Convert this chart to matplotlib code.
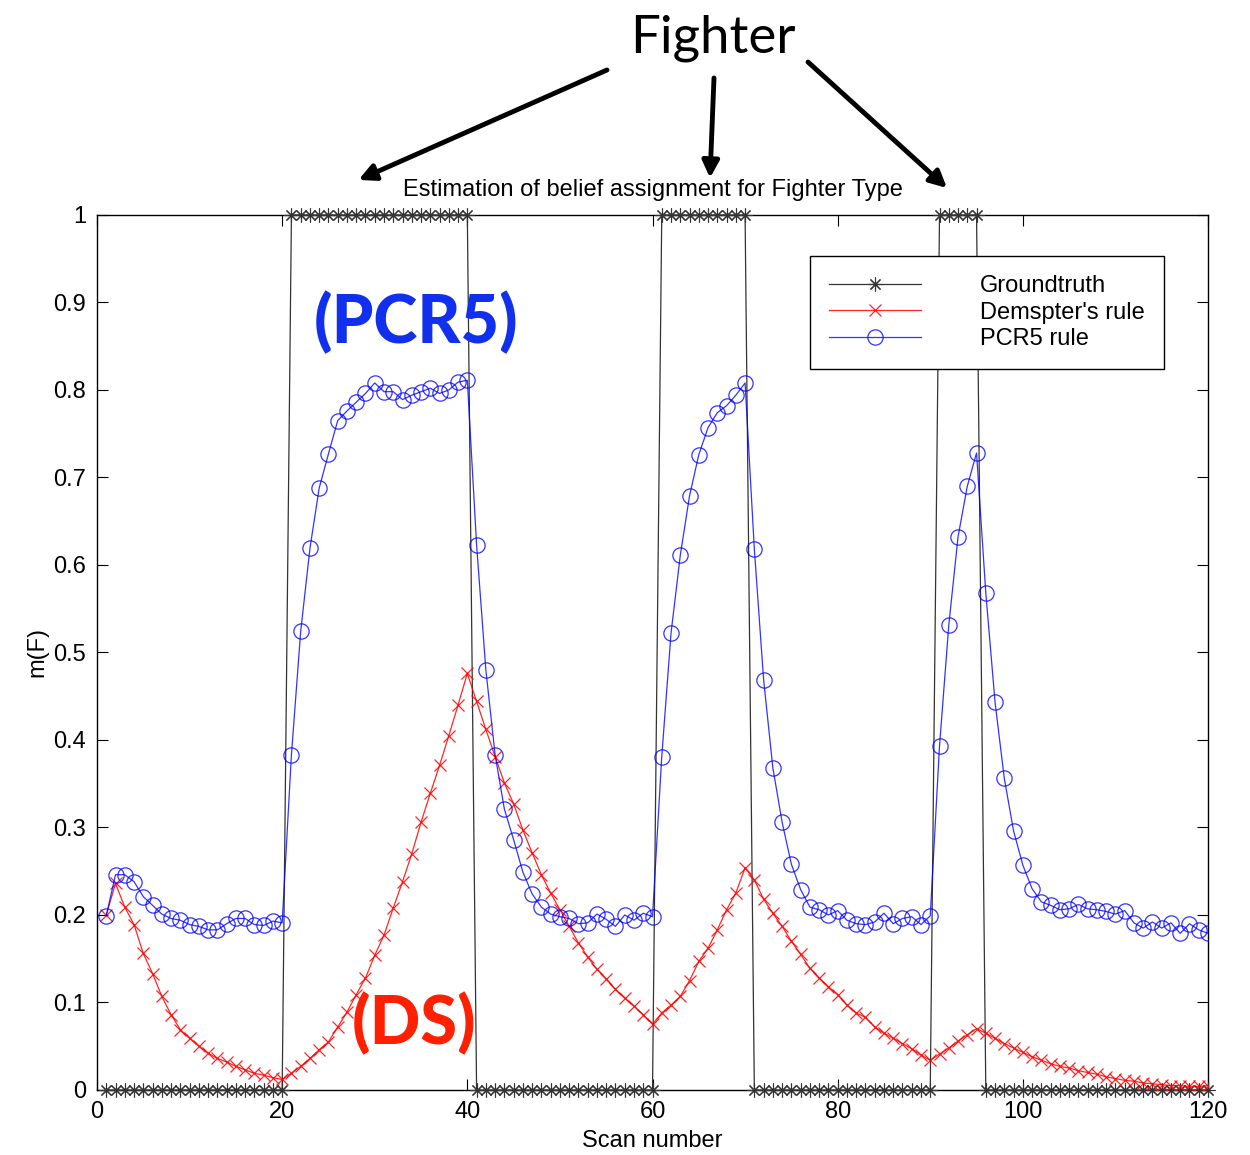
import numpy as np
import matplotlib
matplotlib.use("Agg")
import matplotlib.pyplot as plt

# scan numbers 1..120
scans = np.arange(1, 121)

groundtruth = [
    0, 0, 0, 0, 0, 0, 0, 0, 0, 0, 0, 0, 0, 0, 0, 0, 0, 0, 0, 0,
    1, 1, 1, 1, 1, 1, 1, 1, 1, 1, 1, 1, 1, 1, 1, 1, 1, 1, 1, 1,
    0, 0, 0, 0, 0, 0, 0, 0, 0, 0, 0, 0, 0, 0, 0, 0, 0, 0, 0, 0,
    1, 1, 1, 1, 1, 1, 1, 1, 1, 1, 0, 0, 0, 0, 0, 0, 0, 0, 0, 0,
    0, 0, 0, 0, 0, 0, 0, 0, 0, 0, 1, 1, 1, 1, 1, 0, 0, 0, 0, 0,
    0, 0, 0, 0, 0, 0, 0, 0, 0, 0, 0, 0, 0, 0, 0, 0, 0, 0, 0, 0,
]

dempster = [
    0.200, 0.236, 0.209, 0.189, 0.156, 0.133, 0.107, 0.086, 0.069, 0.059,
    0.050, 0.042, 0.036, 0.032, 0.027, 0.023, 0.019, 0.017, 0.014, 0.012,
    0.019, 0.027, 0.036, 0.046, 0.055, 0.072, 0.089, 0.109, 0.128, 0.154,
    0.177, 0.208, 0.238, 0.270, 0.306, 0.339, 0.371, 0.405, 0.440, 0.476,
    0.444, 0.412, 0.381, 0.351, 0.327, 0.297, 0.271, 0.246, 0.225, 0.206,
    0.187, 0.168, 0.152, 0.138, 0.127, 0.115, 0.105, 0.096, 0.086, 0.075,
    0.088, 0.097, 0.107, 0.125, 0.147, 0.162, 0.183, 0.206, 0.225, 0.254,
    0.240, 0.218, 0.202, 0.187, 0.170, 0.155, 0.139, 0.128, 0.118, 0.109,
    0.097, 0.088, 0.083, 0.072, 0.065, 0.059, 0.053, 0.047, 0.040, 0.034,
    0.041, 0.048, 0.056, 0.063, 0.070, 0.065, 0.059, 0.053, 0.048, 0.043,
    0.038, 0.034, 0.030, 0.027, 0.025, 0.022, 0.020, 0.018, 0.015, 0.013,
    0.011, 0.010, 0.008, 0.007, 0.006, 0.005, 0.005, 0.004, 0.004, 0.005,
]

pcr5 = [
    0.199, 0.246, 0.246, 0.238, 0.221, 0.211, 0.201, 0.196, 0.194, 0.189,
    0.187, 0.183, 0.183, 0.190, 0.196, 0.196, 0.189, 0.188, 0.193, 0.191,
    0.383, 0.524, 0.619, 0.688, 0.727, 0.765, 0.776, 0.786, 0.796, 0.808,
    0.798, 0.798, 0.789, 0.794, 0.798, 0.802, 0.796, 0.800, 0.809, 0.811,
    0.623, 0.480, 0.383, 0.321, 0.286, 0.249, 0.224, 0.209, 0.201, 0.198,
    0.196, 0.190, 0.191, 0.201, 0.195, 0.187, 0.200, 0.194, 0.202, 0.198,
    0.381, 0.522, 0.611, 0.679, 0.726, 0.757, 0.774, 0.782, 0.794, 0.808,
    0.618, 0.469, 0.368, 0.306, 0.258, 0.229, 0.209, 0.206, 0.200, 0.205,
    0.194, 0.190, 0.189, 0.192, 0.202, 0.190, 0.196, 0.198, 0.189, 0.199,
    0.393, 0.531, 0.632, 0.690, 0.728, 0.568, 0.443, 0.356, 0.296, 0.257,
    0.230, 0.215, 0.211, 0.206, 0.207, 0.212, 0.207, 0.206, 0.204, 0.201,
    0.205, 0.191, 0.185, 0.192, 0.185, 0.191, 0.179, 0.190, 0.183, 0.179,
]

plt.rcParams['font.family'] = ['Liberation Sans', 'DejaVu Sans']

fig = plt.figure(figsize=(12.5, 11.55), dpi=100)
ax = fig.add_axes([0.0776, 0.0563, 0.8888, 0.7576])

# matlab-like asterisk: 8 thin arms
ax.plot(scans, groundtruth, color='#333333', lw=0.9, marker=(8, 2, 0), ms=10,
        mew=0.8, label='Groundtruth', clip_on=False, zorder=3)
ax.plot(scans, dempster, color='#ff0000', lw=0.9, marker='x', ms=8,
        mew=0.9, label="Demspter's rule", alpha=0.85, zorder=4)
ax.plot(scans, pcr5, color='#0000ff', lw=0.9, marker='o', ms=11,
        mfc='none', mew=0.9, label='PCR5 rule', alpha=0.8, zorder=5)

ax.set_xlim(0, 120)
ax.set_ylim(0, 1)
ax.set_xticks([0, 20, 40, 60, 80, 100, 120])
ax.set_yticks([0, 0.1, 0.2, 0.3, 0.4, 0.5, 0.6, 0.7, 0.8, 0.9, 1])
ax.set_yticklabels(['0', '0.1', '0.2', '0.3', '0.4', '0.5', '0.6', '0.7',
                    '0.8', '0.9', '1'])
ax.tick_params(direction='in', top=True, right=True, length=8,
               labelsize=17, pad=8)
for s in ax.spines.values():
    s.set_linewidth(1.0)

ax.set_xlabel('Scan number', fontsize=17, labelpad=5)
ax.set_ylabel('m(F)', fontsize=17, labelpad=3)
ax.set_title('Estimation of belief assignment for Fighter Type',
             fontsize=17, pad=14)

leg = ax.legend(loc='upper left', bbox_to_anchor=(0.642, 0.953),
                fontsize=17, frameon=True, fancybox=False, framealpha=1,
                edgecolor='black', handlelength=3.9, handletextpad=2.5,
                borderpad=0.8, labelspacing=0.2, borderaxespad=0)
leg.get_frame().set_linewidth(1.0)

# annotations on top of the chart
fig.text(0.570, 0.967, 'Fighter', fontsize=38, family='Lato',
         ha='center', va='center')
arrow_kw = dict(arrowstyle='-|>,head_length=1.0,head_width=0.5',
                lw=3.5, color='black', shrinkA=0, shrinkB=0)
ax.annotate('', xy=(0.2868, 0.8442), xytext=(0.4856, 0.9394),
            xycoords='figure fraction', textcoords='figure fraction',
            arrowprops=arrow_kw)
ax.annotate('', xy=(0.5680, 0.8459), xytext=(0.5712, 0.9325),
            xycoords='figure fraction', textcoords='figure fraction',
            arrowprops=arrow_kw)
ax.annotate('', xy=(0.7576, 0.8372), xytext=(0.6464, 0.9463),
            xycoords='figure fraction', textcoords='figure fraction',
            arrowprops=arrow_kw)

fig.text(0.333, 0.720, '(PCR5)', fontsize=48, family='Lato',
         fontweight='black', color='#1030ee', ha='center', va='center')
fig.text(0.331, 0.113, '(DS)', fontsize=48, family='Lato',
         fontweight='black', color='#ff2000', ha='center', va='center')

fig.savefig('out.png', dpi=100)
